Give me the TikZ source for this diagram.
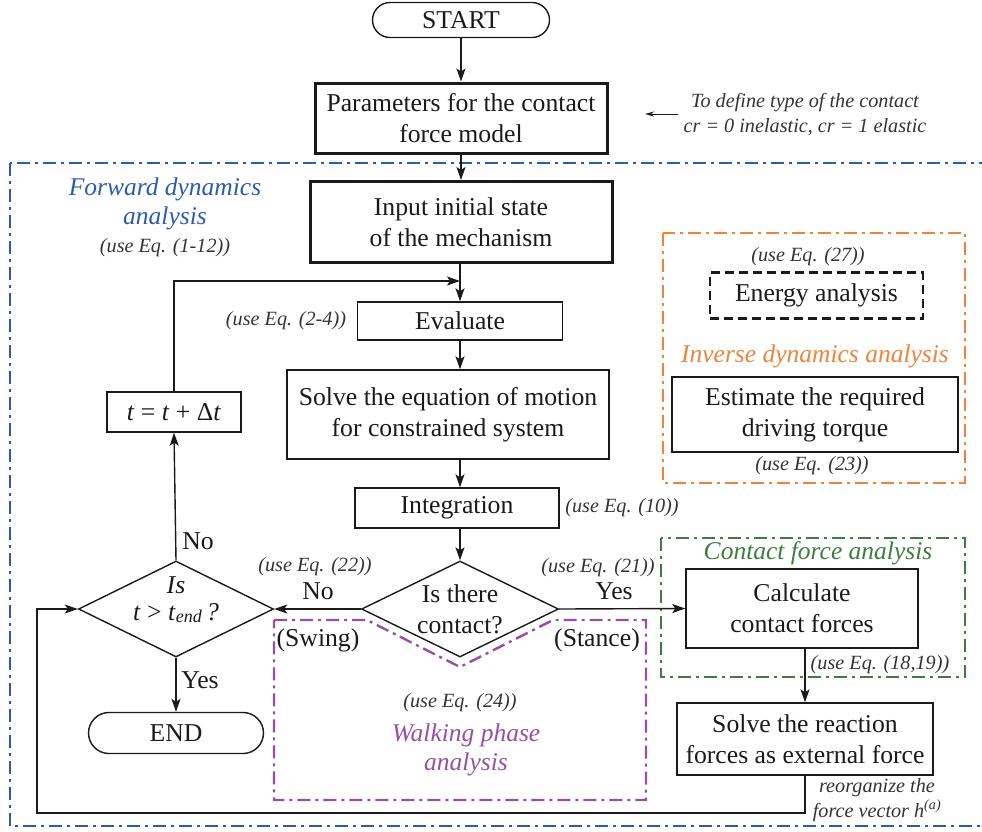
\documentclass[tikz,border=0pt]{standalone}
\usepackage{fontspec}
\setmainfont{Liberation Serif}
\usetikzlibrary{arrows.meta,shapes.misc,shapes.geometric}
\definecolor{fwdblue}{HTML}{2B5BAE}
\definecolor{invorange}{HTML}{F0823A}
\definecolor{cgreen}{HTML}{3B7F3F}
\definecolor{wpurple}{HTML}{9A4DA6}
\definecolor{anngray}{HTML}{333333}
\definecolor{ink}{HTML}{1A1A1A}
\tikzset{
  every node/.style={font=\fontsize{25.7}{31}\selectfont, text=ink},
  procbox/.style={draw=ink, line width=1.4pt, align=center, inner sep=0pt},
  thickbox/.style={procbox, line width=3pt},
  stadium/.style={draw=ink, line width=1.4pt, rounded rectangle, inner sep=0pt},
  decision/.style={draw=ink, line width=1.4pt, diamond, inner sep=0pt},
  anno/.style={font=\fontsize{20.2}{24}\selectfont\itshape, text=anngray, align=center, inner sep=0pt},
  grouptitle/.style={font=\fontsize{25.5}{29}\selectfont\itshape, align=center, inner sep=0pt},
  lbl/.style={inner sep=0pt},
  conn/.style={draw=ink, line width=1.4pt},
  arr/.style={conn, -{Stealth[length=13pt,width=9pt,inset=3pt]}},
  dashdot/.style={line width=2.4pt, dash pattern=on 13pt off 5pt on 3pt off 5pt},
}
\begin{document}
\begin{tikzpicture}[x=1pt,y=-1pt]
\useasboundingbox (0,0) rectangle (982,831);

% group frames
\draw[fwdblue, dashdot] (10,163) rectangle (995,826);
\draw[invorange, dashdot] (663,233) rectangle (965,483);
\draw[cgreen, dashdot] (661,538) rectangle (965,677);
\draw[wpurple, dashdot] (274,620) -- (367,620) -- (460,667) -- (553,620) -- (646,620) -- (646,800) -- (274,800) -- cycle;

% main nodes
\node[stadium, minimum width=177pt, minimum height=35pt] (start) at (461,20) {START};
\node[thickbox, minimum width=292pt, minimum height=70pt] (param) at (461,118) {Parameters for the contact\\force model};
\node[thickbox, minimum width=302pt, minimum height=81pt] (input) at (461,222) {Input initial state\\of the mechanism};
\node[procbox, minimum width=205pt, minimum height=38pt] (eval) at (460,321) {Evaluate};
\node[procbox, minimum width=322pt, minimum height=89pt] (solve) at (448,414.5) {Solve the equation of motion\\for constrained system};
\node[procbox, minimum width=204pt, minimum height=40pt] (integ) at (457,508) {Integration};
\node[decision, minimum width=197pt, minimum height=96pt] (contact) at (460,609) {};
\node[lbl, align=center] (contacttxt) at (460,609) {Is there\\contact?};
\node[decision, minimum width=195pt, minimum height=96pt] (tend) at (176,609) {};
\node[lbl, font=\fontsize{25.7}{31}\selectfont\itshape] (tendis) at (176,585) {Is};
\node[lbl] (tendq) at (176,613) {\textit{t} > \textit{t}\raisebox{-2pt}{\fontsize{18}{18}\selectfont\itshape end}\,\textit{?}};
\node[procbox, minimum width=134pt, minimum height=40pt] (tstep) at (174,412) {\textit{t} = \textit{t} + Δ\textit{t}};
\node[stadium, minimum width=175pt, minimum height=41pt] (end) at (176,733) {END};
\node[procbox, minimum width=232pt, minimum height=79pt] (calc) at (802,608.5) {Calculate\\contact forces};
\node[procbox, minimum width=256pt, minimum height=72pt] (react) at (805,739) {Solve the reaction\\forces as external force};
\node[procbox, line width=2.4pt, dash pattern=on 9pt off 5pt, minimum width=213pt, minimum height=46pt] (energy) at (816.5,295.5) {Energy analysis};
\node[procbox, minimum width=286pt, minimum height=75pt] (estim) at (815,414.5) {Estimate the required\\driving torque};

% annotations
\node[anno, font=\fontsize{20.2}{25}\selectfont\itshape] (define) at (805,114) {To define type of the contact\\cr = 0 inelastic, cr = 1 elastic};
\coordinate (defend) at (645,114);
\node[grouptitle, text=fwdblue] (fwdtitle) at (165,204) {Forward dynamics\\analysis};
\node[anno] (eq112) at (165,248) {(use Eq. (1-12))};
\node[anno] (eq24a) at (286,321) {(use Eq. (2-4))};
\node[anno] (eq10) at (622,508) {(use Eq. (10))};
\node[anno] (eq27) at (808,257) {(use Eq. (27))};
\node[grouptitle, text=invorange] (invtitle) at (815,356) {Inverse dynamics analysis};
\node[anno] (eq23) at (812,466) {(use Eq. (23))};
\node[grouptitle, text=cgreen] (cfatitle) at (818,553) {Contact force analysis};
\node[anno] (eq1819) at (880,665) {(use Eq. (18,19))};
\node[anno] (eq22) at (315,567) {(use Eq. (22))};
\node[anno] (eq21) at (598,568) {(use Eq. (21))};
\node[lbl] (nocontact) at (318,591) {No};
\node[lbl] (yescontact) at (614,591) {Yes};
\node[lbl] (notend) at (198,541) {No};
\node[lbl] (yestend) at (200,680) {Yes};
\node[lbl] (swing) at (318,640) {(Swing)};
\node[lbl] (stance) at (597,640) {(Stance)};
\node[anno] (eq24) at (460,703) {(use Eq. (24))};
\node[grouptitle, text=wpurple] (wpatitle) at (466,750) {Walking phase\\analysis};
\node[anno, font=\fontsize{20.2}{25}\selectfont\itshape] (reorg) at (877,800) {reorganize the\\force vector \textit{h}\textsuperscript{(a)}};

% connectors
\coordinate (merge) at (460,281);
\coordinate (loopbl) at (37,813);
\draw[arr] (start.south) -- (param.north);
\draw[arr] (param.south) -- (param.south |- input.north);
\draw[arr] (input.south -| eval.north) -- (eval.north);
\draw[arr] (tstep.north) |- (merge);
\draw[arr] (eval.south) -- (eval.south |- solve.north);
\draw[arr] (eval.south |- solve.south) -- (eval.south |- integ.north);
\draw[arr] (eval.south |- integ.south) -- (contact.north);
\draw[arr] (contact.west) -- (tend.east);
\draw[arr] (contact.east) -- (calc.west);
\draw[arr] (tend.north) -- (tstep.south);
\draw[arr] (tend.south) -- (end.north);
\draw[arr] (calc.south -| react.north) -- (react.north);
\draw[arr] (react.south) |- (loopbl) |- (tend.west);
\draw[conn, -{Stealth[length=9pt,width=5pt]}, line width=1pt] (define.west |- defend) ++(-5,0) -- (defend);
\end{tikzpicture}
\end{document}
